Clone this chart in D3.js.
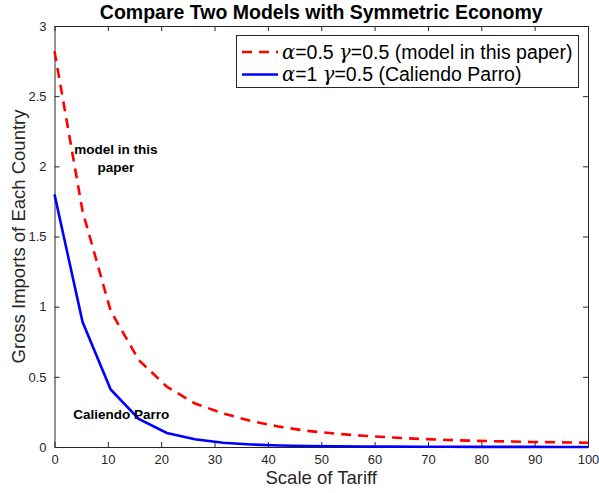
<!DOCTYPE html>
<html>
<head>
<meta charset="utf-8">
<script src="https://cdn.jsdelivr.net/npm/d3@7"></script>
<style>
  body { margin: 0; background: #fff; }
  text { font-family: "Liberation Sans", Arial, Helvetica, sans-serif; }
</style>
</head>
<body>
<div id="chart"></div>
<script>
// tariff grid: 20 points, 0..100
const tariff = d3.range(20).map(i => i * 100 / 19);
const modelPaper = [2.82, 1.68, 0.97, 0.62, 0.43, 0.31, 0.24, 0.185, 0.145, 0.115,
                    0.095, 0.08, 0.068, 0.058, 0.05, 0.044, 0.04, 0.036, 0.033, 0.03];
const caliendoParro = [1.8, 0.89, 0.41, 0.2, 0.1, 0.055, 0.03, 0.018, 0.011, 0.007,
                       0.005, 0.0035, 0.0025, 0.002, 0.0015, 0.001, 0.0008, 0.0006, 0.0005, 0.0004];
const xTicks = [0, 10, 20, 30, 40, 50, 60, 70, 80, 90, 100];
const yTicks = [0, 0.5, 1, 1.5, 2, 2.5, 3];

const width = 599, height = 493;
const margin = { top: 26, right: 11, bottom: 46, left: 54.5 };
const iw = width - margin.left - margin.right;
const ih = height - margin.top - margin.bottom;
const axisColor = "#262626";

const svg = d3.select("#chart").append("svg")
  .attr("width", width).attr("height", height);

const x = d3.scaleLinear().domain([0, 100]).range([margin.left, margin.left + iw]);
const y = d3.scaleLinear().domain([0, 3]).range([margin.top + ih, margin.top]);

// axes (ticks inside, like matlab)
const tick = 5;
const styleAxis = g => {
  g.select(".domain").attr("stroke", axisColor).attr("stroke-width", 1);
  g.selectAll(".tick line").attr("stroke", axisColor);
  g.selectAll(".tick text").attr("fill", axisColor).style("font-size", "13px");
};

svg.append("g")
  .attr("transform", `translate(0,${margin.top + ih})`)
  .call(d3.axisBottom(x).tickValues(xTicks).tickSize(-tick).tickPadding(8).tickSizeOuter(0))
  .call(styleAxis);
svg.append("g")
  .attr("transform", `translate(0,${margin.top})`)
  .call(d3.axisTop(x).tickValues(xTicks).tickSize(-tick).tickFormat("").tickSizeOuter(0))
  .call(styleAxis);
svg.append("g")
  .attr("transform", `translate(${margin.left},0)`)
  .call(d3.axisLeft(y).tickValues(yTicks).tickSize(-tick).tickPadding(8).tickSizeOuter(0).tickFormat(d3.format("~g")))
  .call(styleAxis);
svg.append("g")
  .attr("transform", `translate(${margin.left + iw},0)`)
  .call(d3.axisRight(y).tickValues(yTicks).tickSize(-tick).tickFormat("").tickSizeOuter(0))
  .call(styleAxis);

// lines
const line = d3.line().x((d, i) => x(tariff[i])).y(d => y(d));

svg.append("path")
  .datum(modelPaper)
  .attr("d", line)
  .attr("fill", "none")
  .attr("stroke", "#ff0000")
  .attr("stroke-width", 2.6)
  .attr("stroke-dasharray", "10,7");

svg.append("path")
  .datum(caliendoParro)
  .attr("d", line)
  .attr("fill", "none")
  .attr("stroke", "#0000ff")
  .attr("stroke-width", 2.6);

// title + axis labels
svg.append("text")
  .attr("x", margin.left + iw / 2).attr("y", 19)
  .attr("text-anchor", "middle")
  .style("font-size", "19.5px").style("font-weight", "bold")
  .text("Compare Two Models with Symmetric Economy");

svg.append("text")
  .attr("x", margin.left + iw / 2).attr("y", 484)
  .attr("text-anchor", "middle")
  .attr("fill", axisColor)
  .style("font-size", "18.5px")
  .text("Scale of Tariff");

svg.append("text")
  .attr("transform", `translate(25,${margin.top + ih / 2}) rotate(-90)`)
  .attr("text-anchor", "middle")
  .attr("fill", axisColor)
  .style("font-size", "18.5px")
  .text("Gross Imports of Each Country");

// annotations
const notes = svg.append("g").style("font-size", "13.5px").style("font-weight", "bold")
  .attr("text-anchor", "middle");
notes.append("text").attr("x", x(11.5)).attr("y", y(2.09)).text("model in this");
notes.append("text").attr("x", x(11.5)).attr("y", y(1.96)).text("paper");
notes.append("text").attr("x", x(12.5)).attr("y", y(0.2)).text("Caliendo Parro");

// legend
const legend = svg.append("g");
legend.append("rect")
  .attr("x", 236.5).attr("y", 35.5).attr("width", 342).attr("height", 52)
  .attr("fill", "#fff").attr("stroke", axisColor).attr("stroke-width", 1);

const entries = [
  { color: "#ff0000", dash: "10,7", a: "0.5", label: " (model in this paper)" },
  { color: "#0000ff", dash: null, a: "1", label: " (Caliendo Parro)" }
];
entries.forEach((e, i) => {
  const cy = 52 + i * 22.5;
  legend.append("line")
    .attr("x1", 242).attr("x2", 278).attr("y1", cy).attr("y2", cy)
    .attr("stroke", e.color).attr("stroke-width", 2.6)
    .attr("stroke-dasharray", e.dash);
  const t = legend.append("text").attr("x", 282).attr("y", cy + 6.5)
    .attr("fill", "#000").style("font-size", "19.5px");
  t.append("tspan").style("font-family", "'DejaVu Serif', 'Liberation Serif', serif")
    .style("font-style", "italic").text("α");
  t.append("tspan").text("=" + e.a + " ");
  t.append("tspan").style("font-family", "'DejaVu Serif', 'Liberation Serif', serif")
    .style("font-style", "italic").text("γ");
  t.append("tspan").text("=0.5" + e.label);
});
</script>
</body>
</html>
